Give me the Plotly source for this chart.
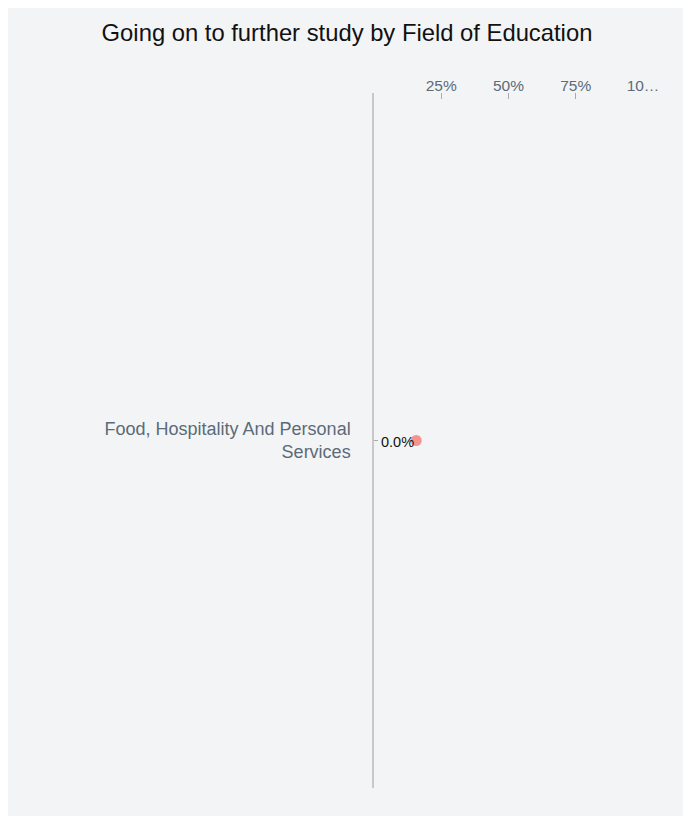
import plotly.graph_objects as go

fields = ['Food, Hospitality And Personal<br>Services']
further_study = [0.157]
labels = ['0.0%']
tick_vals = [0.25, 0.5, 0.75, 1.0]
tick_text = ['25%', '50%', '75%', '10…']

bg = '#f3f4f6'
fig = go.Figure()
fig.add_trace(go.Scatter(x=further_study,
                         y=fields,
                         mode='markers',
                         marker=dict(size=11, color='#f7938d'),
                         cliponaxis=False,
                         showlegend=False))

# value labels sit just left of the dot, overlapping it a little
for xv, yv, lab in zip(further_study, fields, labels):
    fig.add_annotation(x=xv, y=yv, text=lab, showarrow=False,
                       xanchor='right', yshift=-1,
                       font=dict(size=14.5, color='#111111'))

fig.update_layout(title=dict(text='Going on to further study by Field of Education',
                             x=0.5, xanchor='center', y=0.97, yanchor='middle',
                             font=dict(size=23.8, color='#111111')),
                  font=dict(family='Liberation Sans, Arial, sans-serif'),
                  width=678, height=820,
                  margin=dict(l=366, r=43, t=85, b=40),
                  paper_bgcolor=bg, plot_bgcolor=bg)

fig.update_xaxes(side='top', range=[0, 1], tickvals=tick_vals, ticktext=tick_text,
                 ticks='inside', ticklen=6, tickcolor='#aaaaaa', ticklabelstandoff=-2,
                 tickfont=dict(size=15.5, color='#5b6b78'),
                 showgrid=False, zeroline=False, showline=False)
fig.update_yaxes(showline=True, linecolor='#c8c8c8', linewidth=1.5,
                 ticks='inside', ticklen=4, tickcolor='#aaaaaa',
                 ticklabelstandoff=18,
                 tickfont=dict(size=18, color='#5b6b78'),
                 showgrid=False, zeroline=False)

fig.write_html('out.html')
